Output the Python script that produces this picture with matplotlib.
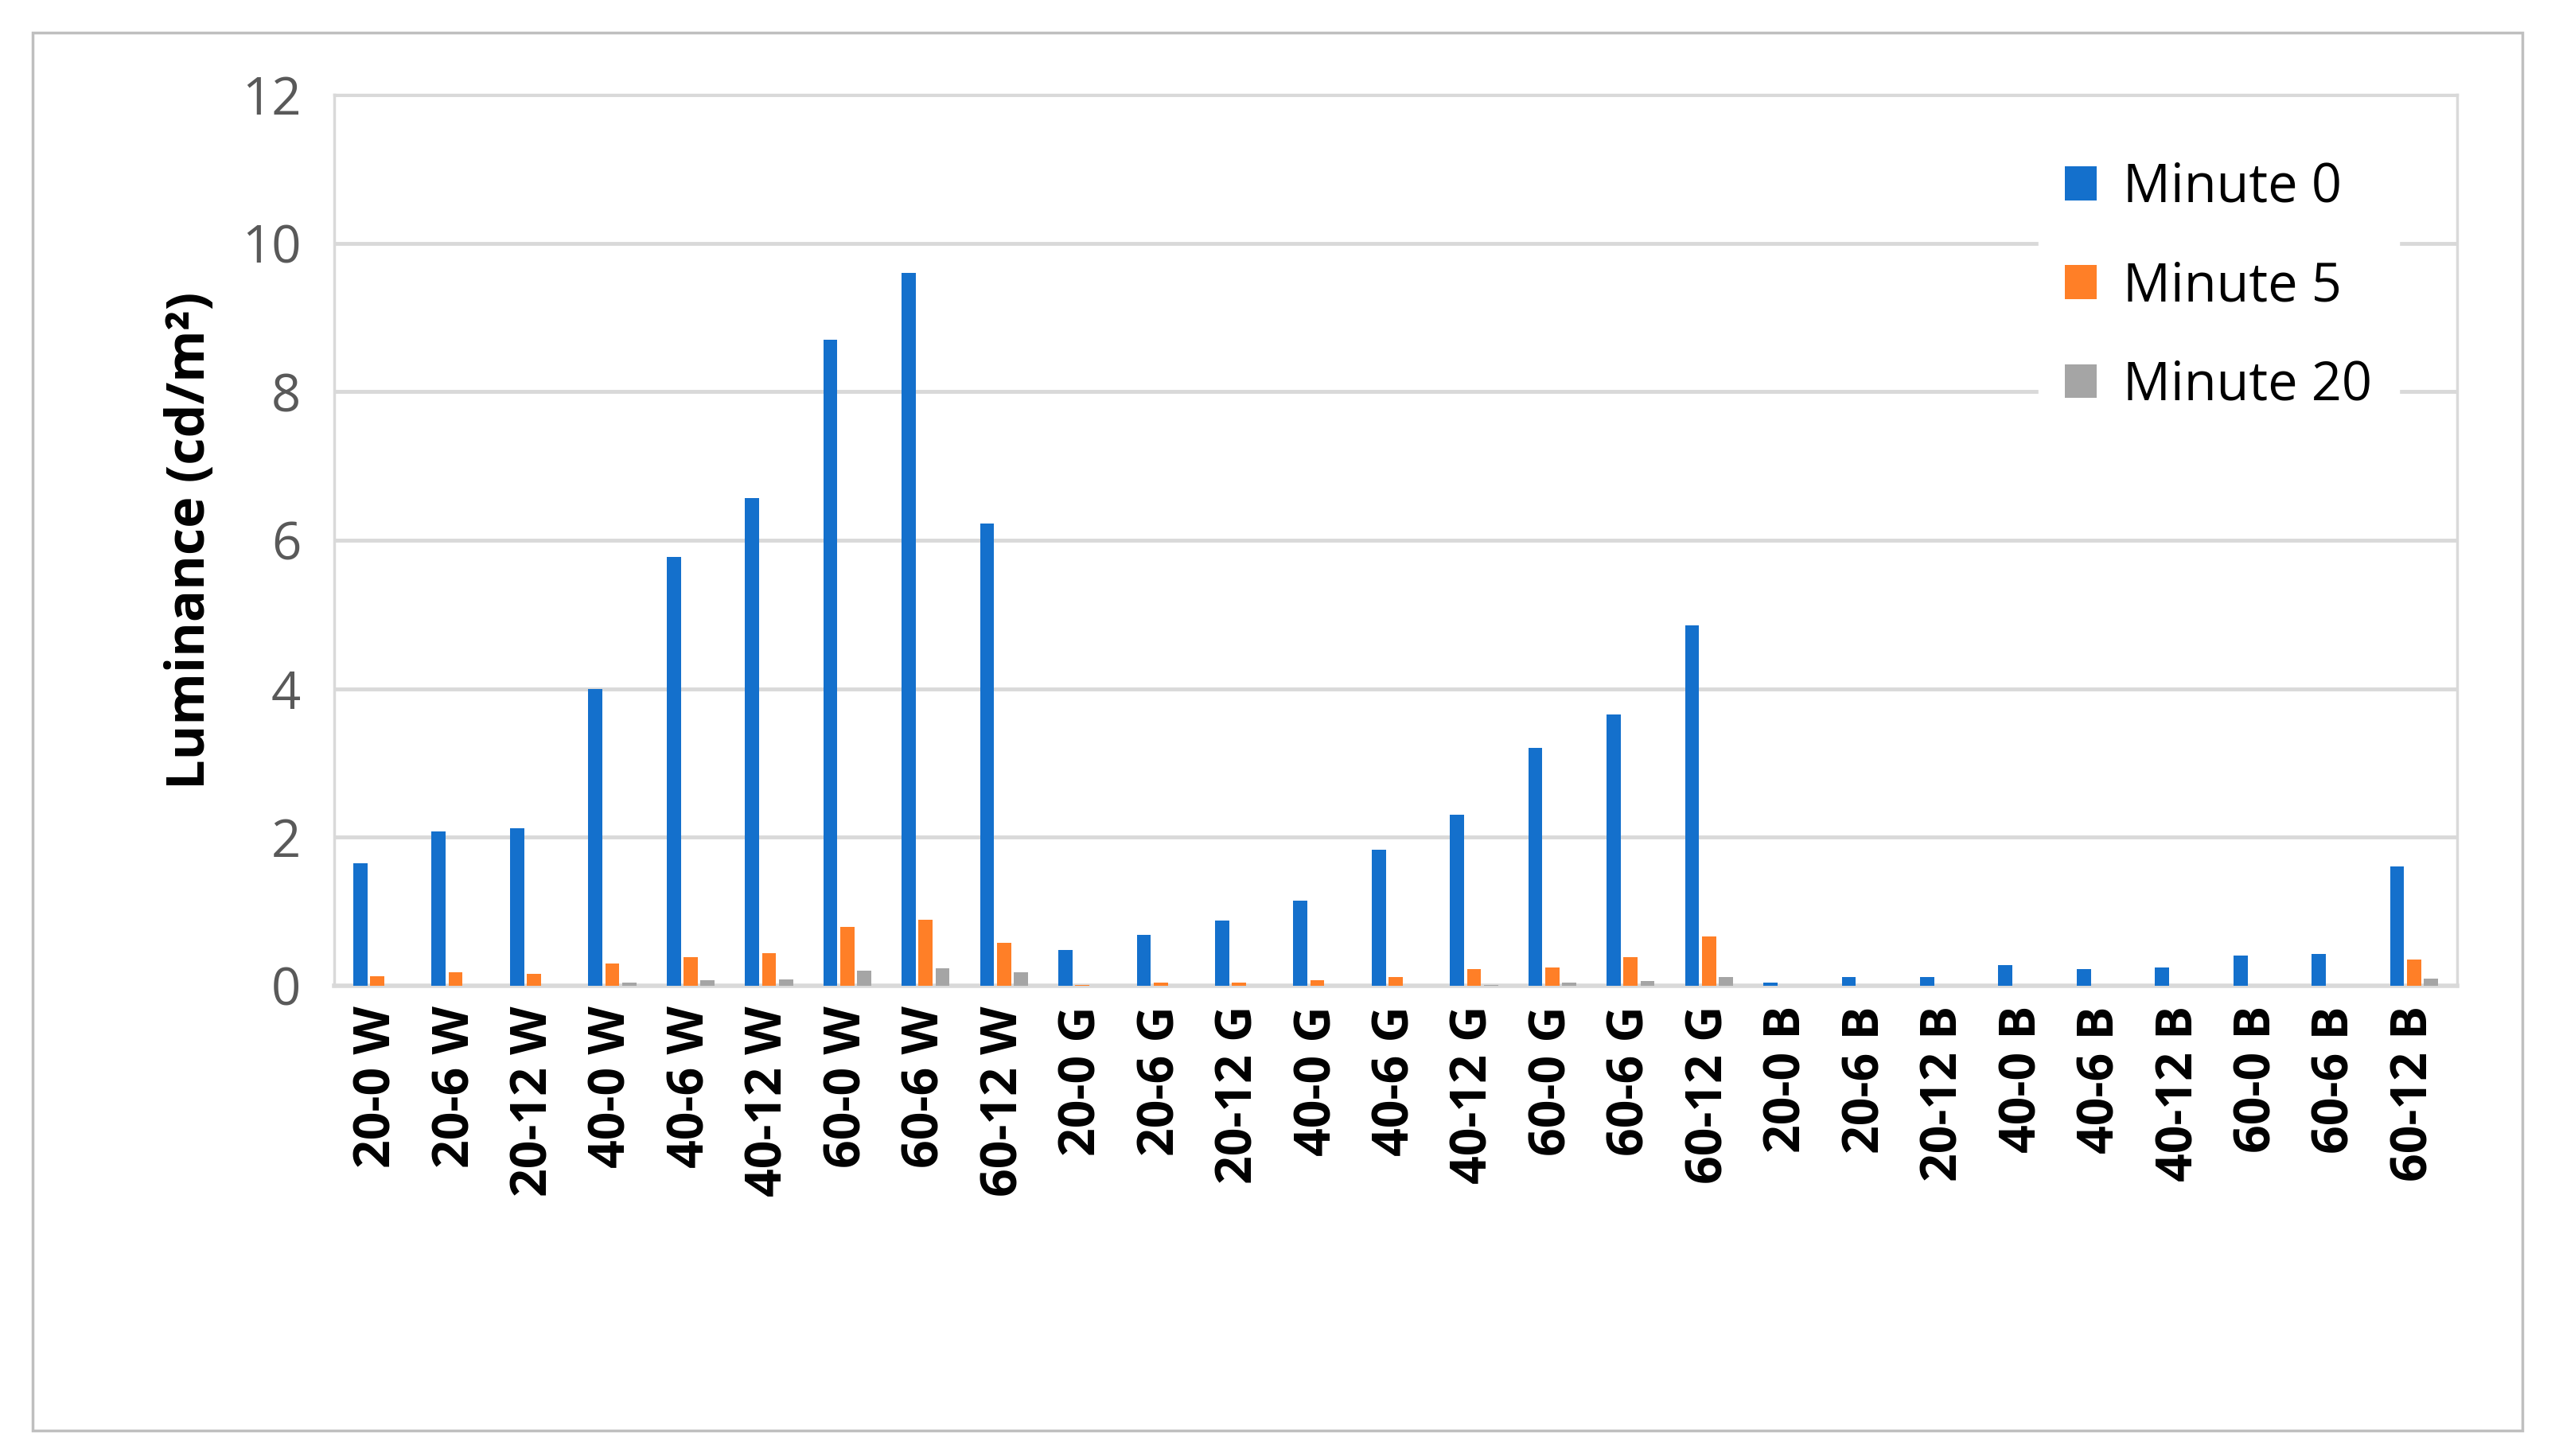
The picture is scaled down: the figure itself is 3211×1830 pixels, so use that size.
import matplotlib
matplotlib.use("Agg")
import matplotlib.pyplot as plt
import numpy as np

categories = ["20-0 W","20-6 W","20-12 W","40-0 W","40-6 W","40-12 W","60-0 W","60-6 W","60-12 W",
              "20-0 G","20-6 G","20-12 G","40-0 G","40-6 G","40-12 G","60-0 G","60-6 G","60-12 G",
              "20-0 B","20-6 B","20-12 B","40-0 B","40-6 B","40-12 B","60-0 B","60-6 B","60-12 B"]
minute0 = [1.65, 2.08, 2.12, 4.0, 5.78, 6.57, 8.7, 9.6, 6.22,
           0.48, 0.69, 0.88, 1.15, 1.83, 2.30, 3.2, 3.65, 4.85,
           0.04, 0.12, 0.12, 0.28, 0.23, 0.25, 0.41, 0.43, 1.61]
minute5 = [0.13, 0.18, 0.16, 0.30, 0.39, 0.44, 0.79, 0.89, 0.58,
           0.015, 0.04, 0.04, 0.08, 0.12, 0.23, 0.25, 0.39, 0.66,
           0, 0, 0, 0, 0, 0, 0, 0, 0.35]
minute20 = [0, 0, 0, 0.04, 0.08, 0.09, 0.20, 0.24, 0.18,
            0, 0, 0, 0, 0, 0.015, 0.04, 0.06, 0.12,
            0, 0, 0, 0, 0, 0, 0, 0, 0.10]
series = [("Minute 0", minute0, "#1470CC"), ("Minute 5", minute5, "#FF7F27"), ("Minute 20", minute20, "#A5A5A5")]

plt.rcParams['font.family'] = ['Open Sans', 'DejaVu Sans']
fig = plt.figure(figsize=(32.11, 18.30), dpi=100)
ax = fig.add_axes([420/3211, 1-1239/1830, (3088-420)/3211, (1239-119)/1830])
x = np.arange(len(categories))
step, w = 0.216, 0.18
for i, (name, vals, col) in enumerate(series):
    ax.bar(x + (i-1)*step, vals, width=w, color=col, label=name, zorder=3)
ax.set_xlim(-0.55, len(categories)-0.45)
ax.set_ylim(0, 12)
ax.set_yticks(range(0, 13, 2))
ax.yaxis.grid(True, color="#D9D9D9", linewidth=3.5, zorder=0)
for s in ["top", "right", "left"]:
    ax.spines[s].set_color("#D9D9D9"); ax.spines[s].set_linewidth(2.5)
ax.spines["bottom"].set_color("#D9D9D9"); ax.spines["bottom"].set_linewidth(4)
ax.tick_params(axis="y", length=0, labelsize=47, labelcolor="#595959", pad=30)
ax.tick_params(axis="x", length=0, labelsize=45, pad=18)
ax.set_xticks(x)
ax.set_xticklabels(categories, rotation=90, fontweight="bold")
ax.set_ylabel("Luminance (cd/m²)", fontsize=48, fontweight="bold", labelpad=22)
leg = ax.legend(loc="upper right", bbox_to_anchor=(0.985, 0.985), fontsize=48, frameon=True,
                facecolor="white", edgecolor="white", framealpha=1, handlelength=0.6, handleheight=0.6,
                handletextpad=0.5, labelspacing=0.85, borderpad=0.5)
leg.set_zorder(5)
fig.patches.append(plt.Rectangle((41/3211, 1-1798/1830), (3170-41)/3211, (1798-41)/1830,
                                 transform=fig.transFigure, fill=False, edgecolor="#BFBFBF", linewidth=2.5))
fig.savefig("out.png", dpi=100)
